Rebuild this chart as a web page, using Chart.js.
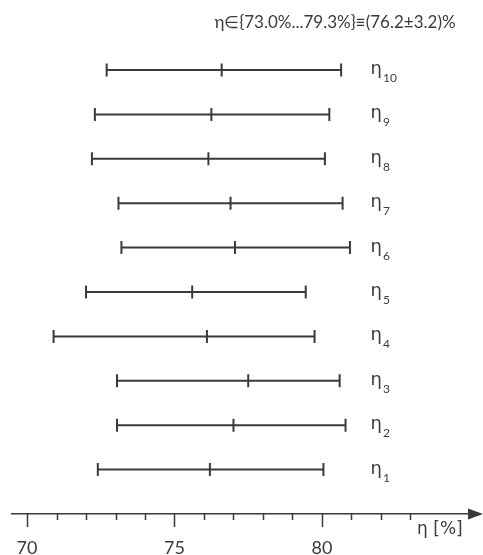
<!DOCTYPE html>
<html>
<head>
<meta charset="utf-8">
<script src="https://cdn.jsdelivr.net/npm/chart.js@4.4.1/dist/chart.umd.min.js"></script>
<style>
  html, body { margin: 0; padding: 0; background: #fff; }
  #wrap { width: 483px; height: 555px; position: relative; }
</style>
</head>
<body>
<div id="wrap"><canvas id="etaChart"></canvas></div>
<script>
// ── Efficiency intervals, η1 (bottom) to η10 (top) ─────────────────
const rowSubs  = ['1', '2', '3', '4', '5', '6', '7', '8', '9', '10'];
const lowVals  = [72.4, 73.05, 73.05, 70.9, 72.0, 73.2, 73.1, 72.2, 72.3, 72.7];
const midVals  = [76.2, 77.0, 77.5, 76.1, 75.6, 77.05, 76.9, 76.15, 76.25, 76.6];
const highVals = [80.05, 80.8, 80.6, 79.75, 79.45, 80.95, 80.7, 80.1, 80.25, 80.65];

const axisTicks  = [70, 71, 72, 73, 74, 75, 76, 77, 78, 79, 80, 81, 82, 83];
const titleText  = 'η∈{73.0%...79.3%}≡(76.2±3.2)%';
const axisTitle  = 'η [%]';

const ink = '#3a3a3a';
const font = 'Lato, "DejaVu Sans", sans-serif';
const etaFont = '"DejaVu Sans", sans-serif';

const datasets = rowSubs.map((s, i) => ({
  label: 'η' + s,
  data: [
    { x: lowVals[i],  y: i + 1 },
    { x: midVals[i],  y: i + 1 },
    { x: highVals[i], y: i + 1 }
  ],
  showLine:         true,
  borderColor:      ink,
  borderWidth:      2,
  pointStyle:       'line',
  pointRotation:    90,
  pointRadius:      6.5,
  pointBorderWidth: 2,
  pointBorderColor: ink,
  pointHoverRadius: 6.5
}));

// tick marks, arrow head, row names and the heading
const decorations = {
  id: 'decorations',
  afterDraw(chart) {
    const { ctx, chartArea, scales: { x, y } } = chart;
    const base = chartArea.bottom;
    ctx.save();
    ctx.strokeStyle = ink;
    ctx.fillStyle = ink;
    ctx.lineWidth = 1.5;

    x.ticks.forEach(t => {
      const px = Math.round(x.getPixelForValue(t.value)) + 0.5;
      const len = t.value % 5 === 0 ? 13 : 6;
      ctx.beginPath();
      ctx.moveTo(px, base);
      ctx.lineTo(px, base + len);
      ctx.stroke();
    });

    // arrow at the end of the axis
    ctx.beginPath();
    ctx.moveTo(chartArea.right - 2, base - 5.5);
    ctx.lineTo(chartArea.right + 13, base);
    ctx.lineTo(chartArea.right - 2, base + 5.5);
    ctx.closePath();
    ctx.fill();

    // η labels to the right of each interval
    const lx = x.getPixelForValue(81.65);
    ctx.textAlign = 'left';
    ctx.textBaseline = 'alphabetic';
    rowSubs.forEach((s, i) => {
      const py = y.getPixelForValue(i + 1);
      ctx.font = '18px ' + etaFont;
      ctx.fillText('η', lx, py + 4);
      const w = ctx.measureText('η').width;
      ctx.font = '12px ' + font;
      ctx.fillText(s, lx + w + 1, py + 12);
    });

    ctx.font = '17px ' + etaFont;
    ctx.textAlign = 'center';
    ctx.fillText(axisTitle, x.getPixelForValue(84.0), base + 20);

    ctx.font = '17px ' + font;
    ctx.fillText(titleText, 335, 28);
    ctx.restore();
  }
};

new Chart(document.getElementById('etaChart'), {
  type: 'scatter',
  data: { datasets },
  plugins: [decorations],
  options: {
    responsive: true,
    maintainAspectRatio: false,
    animation: false,
    layout: { padding: { left: 12, right: 13, top: 25.6, bottom: 1 } },
    plugins: {
      legend:  { display: false },
      tooltip: { enabled: false }
    },
    scales: {
      x: {
        type: 'linear',
        min: 69.49,
        max: 85.02,
        afterBuildTicks: axis => { axis.ticks = axisTicks.map(v => ({ value: v })); },
        afterFit: axis => {
          axis.height = 40;
          axis.paddingLeft = 0;
          axis.paddingRight = 0;
        },
        grid:   { display: false, drawTicks: false },
        border: { display: true, color: ink, width: 1.5 },
        ticks: {
          color: ink,
          padding: 25,
          maxRotation: 0,
          autoSkip: false,
          font: { family: font, size: 18, lineHeight: 1 },
          callback: v => (v % 5 === 0 ? String(v) : '')
        }
      },
      y: {
        type: 'linear',
        min: 0,
        max: 11,
        display: false
      }
    }
  }
});
</script>
</body>
</html>
